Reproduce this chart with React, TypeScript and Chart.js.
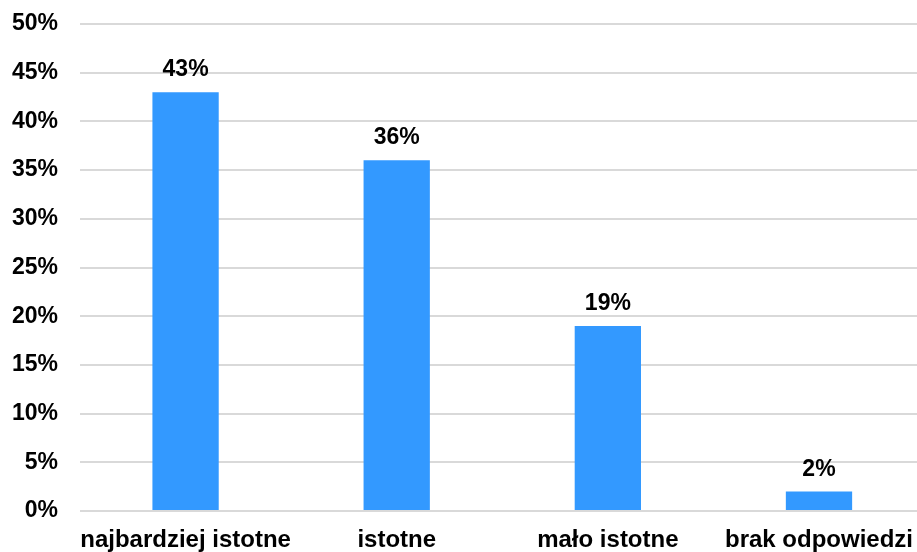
import React, { useEffect, useRef } from "react";
import { Chart, registerables } from "chart.js";

Chart.register(...registerables);

const categories = ["najbardziej istotne", "istotne", "mało istotne", "brak odpowiedzi"];
const values = [43, 36, 19, 2];
const yMin = 0;
const yMax = 50;
const yStep = 5;

const FONT = "'Liberation Sans', Arial, sans-serif";

const dataLabels = {
  id: "dataLabels",
  afterDatasetsDraw(chart: any) {
    const ctx = chart.ctx;
    const meta = chart.getDatasetMeta(0);
    ctx.save();
    ctx.font = `bold 23px ${FONT}`;
    ctx.fillStyle = "#000000";
    ctx.textAlign = "center";
    ctx.textBaseline = "alphabetic";
    meta.data.forEach((bar: any, i: number) => {
      ctx.fillText(`${values[i]}%`, bar.x, bar.y - 16);
    });
    ctx.restore();
  },
};

export default function App() {
  const ref = useRef<HTMLCanvasElement | null>(null);
  useEffect(() => {
    if (!ref.current) return;
    const chart = new Chart(ref.current, {
      type: "bar",
      data: {
        labels: categories,
        datasets: [
          {
            data: values,
            backgroundColor: "#3399ff",
            borderWidth: 0,
            categoryPercentage: 1,
            barPercentage: 0.314,
          },
        ],
      },
      options: {
        animation: false,
        responsive: false,
        maintainAspectRatio: false,
        layout: { padding: { top: 24, left: 0, right: 0, bottom: 0 } },
        plugins: { legend: { display: false }, tooltip: { enabled: false } },
        scales: {
          x: {
            grid: { display: false, drawTicks: false },
            border: { display: false },
            ticks: {
              color: "#000000",
              font: { family: FONT, size: 24, weight: "bold" },
              padding: 15,
              maxRotation: 0,
              autoSkip: false,
            },
            afterFit(scale: any) {
              scale.height = 41;
            },
          },
          y: {
            min: yMin,
            max: yMax,
            grid: {
              color: "#d9d9d9",
              lineWidth: 2,
              drawTicks: true,
              tickLength: 19,
              tickColor: "rgba(0,0,0,0)",
            },
            border: { display: false },
            ticks: {
              stepSize: yStep,
              color: "#000000",
              font: { family: FONT, size: 23, weight: "bold" },
              padding: 3,
              callback: (v: any) => `${v}%`,
            },
            afterFit(scale: any) {
              scale.width = 80;
            },
          },
        },
      },
      plugins: [dataLabels],
    });
    return () => chart.destroy();
  }, []);
  return (
    <div style={{ position: "fixed", left: 0, top: 0, width: 928, height: 552, background: "#ffffff" }}>
      <canvas ref={ref} width={928} height={552} />
    </div>
  );
}
